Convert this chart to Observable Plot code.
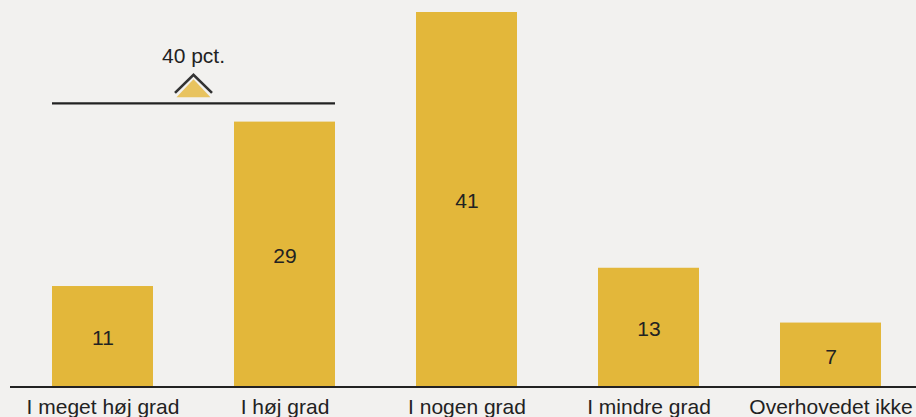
<!DOCTYPE html>
<html><head><meta charset="utf-8">
<script src="https://cdn.jsdelivr.net/npm/d3@7"></script>
<script src="https://cdn.jsdelivr.net/npm/@observablehq/plot@0.6"></script>
<style>html,body{margin:0;padding:0;background:#f2f1ef;overflow:hidden}</style>
</head><body><div id="chart"></div>
<script>
const categories = ["I meget høj grad", "I høj grad", "I nogen grad", "I mindre grad", "Overhovedet ikke"];
const values = [11, 29, 41, 13, 7];
const bracketGroup = ["I meget høj grad", "I høj grad"];
const bracketUnit = " pct.";

const data = categories.map((c, i) => ({category: c, value: values[i]}));
const bracketTotal = values[categories.indexOf(bracketGroup[0])] + values[categories.indexOf(bracketGroup[1])];
const bracketLevel = Math.max(values[0], values[1]) + 2;

const BAR = "#e3b73a", TRI = "#e8c35f", INK = "#222222", BG = "#f2f1ef";
const FONT = "'Liberation Sans', Arial, Helvetica, sans-serif";

function bracketMark(index, scales) {
  const x = scales.x, y = scales.y;
  const bw = typeof x.bandwidth === "function" ? x.bandwidth() : 0;
  const left = x(bracketGroup[0]);
  const right = x(bracketGroup[1]) + bw;
  const cx = (left + right) / 2;
  const ly = y(bracketLevel);
  const g = d3.create("svg:g");
  g.append("line").attr("x1", left).attr("x2", right).attr("y1", ly).attr("y2", ly)
    .attr("stroke", INK).attr("stroke-width", 2.2);
  g.append("path")
    .attr("d", `M${cx - 17},${ly - 6}L${cx},${ly - 24}L${cx + 17},${ly - 6}Z`)
    .attr("fill", TRI);
  g.append("path")
    .attr("d", `M${cx - 18.5},${ly - 10.5}L${cx},${ly - 28.5}L${cx + 18.5},${ly - 10.5}`)
    .attr("fill", "none").attr("stroke", "#333333").attr("stroke-width", 2.6);
  g.append("text").attr("x", cx).attr("y", ly - 40)
    .attr("text-anchor", "middle").attr("font-size", 21).attr("fill", INK)
    .attr("font-family", FONT)
    .text(`${bracketTotal}${bracketUnit}`);
  return g.node();
}

const plot = Plot.plot({
  width: 916, height: 417,
  marginLeft: 16, marginRight: 0, marginTop: 12, marginBottom: 30.5,
  style: {background: BG, fontFamily: FONT, fontSize: "21px", color: INK},
  x: {domain: categories, paddingInner: 0.447, paddingOuter: 0.19, label: null},
  y: {domain: [0, 41], axis: null, nice: false},
  marks: [
    Plot.barY(data, {x: "category", y: "value", fill: BAR}),
    Plot.text(data, {x: "category", y: d => d.value / 2, text: d => String(d.value), fill: INK, fontSize: 21, dy: 2}),
    Plot.ruleY([0], {stroke: INK, strokeWidth: 2, insetLeft: -6}),
    Plot.axisX({tickSize: 0, tickPadding: 12, fontSize: 21, label: null}),
    bracketMark
  ]
});
document.getElementById("chart").appendChild(plot);
</script>
</body></html>
